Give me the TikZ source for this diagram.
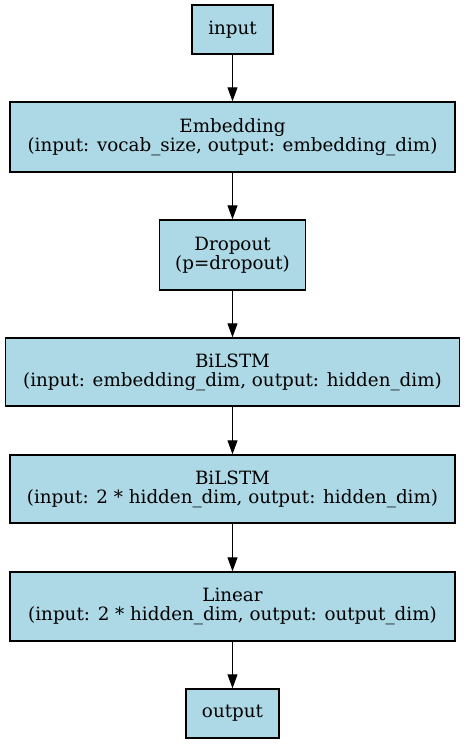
\documentclass[tikz,border=0pt]{standalone}
\usepackage{fontspec}
\setmainfont{DejaVu Serif}
\usetikzlibrary{arrows.meta}
\definecolor{layerblue}{RGB}{173,216,230}

\begin{document}
\begin{tikzpicture}[x=1pt,y=1pt,
    layer/.style={draw=black,fill=layerblue,line width=1.4pt,align=center,inner sep=0pt,font=\fontsize{18.3}{19}\selectfont},
    flow/.style={-{Triangle[length=14pt,width=10pt]},line width=1pt}]
            \useasboundingbox (0,0) rectangle (465,744);

            \node[layer,minimum width=81,minimum height=49] (in) at (232.5,714.5) {input};
            \node[layer,minimum width=445,minimum height=70] (emb) at (232.5,607) {Embedding\\(input: vocab\_size, output: embedding\_dim)};
            \node[layer,minimum width=146,minimum height=70] (drop) at (232.5,489) {Dropout\\(p=dropout)};
            \node[layer,minimum width=454,minimum height=68] (lstma) at (232.5,372) {BiLSTM\\(input: embedding\_dim, output: hidden\_dim)};
            \node[layer,minimum width=445,minimum height=68] (lstmb) at (232.5,255) {BiLSTM\\(input: 2 * hidden\_dim, output: hidden\_dim)};
            \node[layer,minimum width=445,minimum height=69] (lin) at (232.5,137.5) {Linear\\(input: 2 * hidden\_dim, output: output\_dim)};
            \node[layer,minimum width=93,minimum height=49] (out) at (232.5,30.5) {output};

            \draw[flow] (in) to (emb);
            \draw[flow] (emb) to (drop);
            \draw[flow] (drop) to (lstma);
            \draw[flow] (lstma) to (lstmb);
            \draw[flow] (lstmb) to (lin);
            \draw[flow] (lin) to (out);
        \end{tikzpicture}
\end{document}
